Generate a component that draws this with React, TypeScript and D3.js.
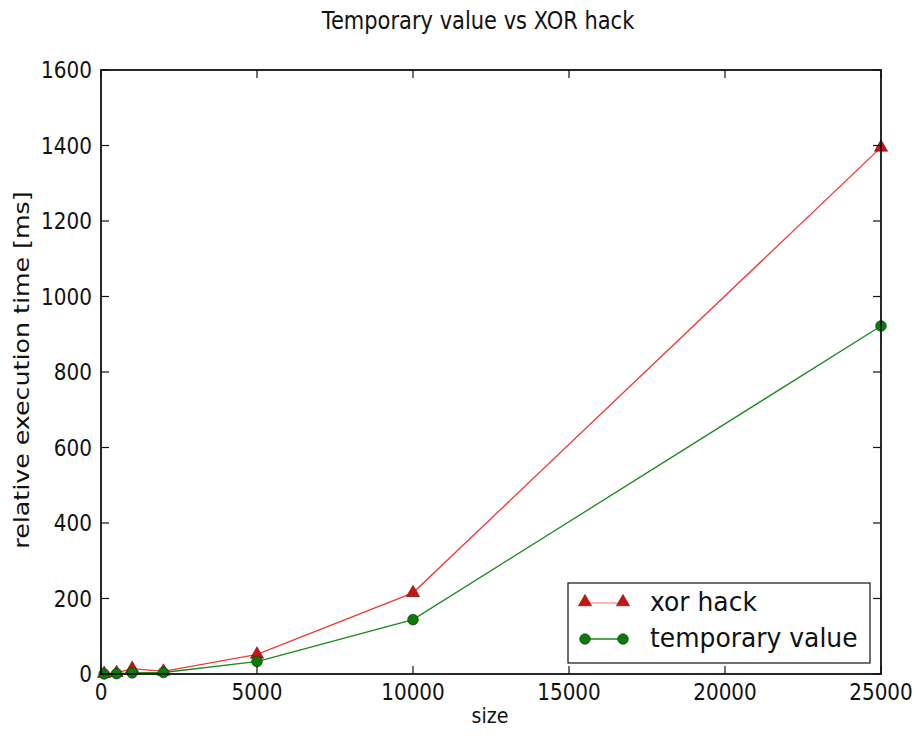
import React from "react";
import * as d3 from "d3";

const sizes = [100, 500, 1000, 2000, 5000, 10000, 25000];
const xorHack = [1, 3, 14, 7, 52, 215, 1395];
const temporaryValue = [0, 1, 3, 4, 33, 144, 922];
const xTicks = [0, 5000, 10000, 15000, 20000, 25000];
const yTicks = [0, 200, 400, 600, 800, 1000, 1200, 1400, 1600];
const seriesNames = ["xor hack", "temporary value"];

const W = 921, H = 740;
const L = 101, R = 881, T = 70, B = 674;
const FONT = "DejaVu Sans, sans-serif";
const SY = 1.15;

function Txt({ x, y, size, anchor = "middle", rotate = 0, sx = 1, sy = SY, children }: any) {
  return (
    <text
      transform={`translate(${x},${y}) rotate(${rotate}) scale(${sx},${sy})`}
      fontSize={size}
      fontFamily={FONT}
      textAnchor={anchor}
      dominantBaseline="central"
      fill="#111"
    >
      {children}
    </text>
  );
}

export default function App() {
  const x = d3.scaleLinear().domain([0, 25000]).range([L, R]);
  const y = d3.scaleLinear().domain([0, 1600]).range([B, T]);
  const line = d3.line<number>().x((_, i) => x(sizes[i])).y((d) => y(d));
  const tri = d3.symbol().type(d3.symbolTriangle).size(75)();
  const circ = d3.symbol().type(d3.symbolCircle).size(90)();
  const redLine = "#ee3a3a";
  const redFill = "#cc1111";
  const greenLine = "#1a8a1a";
  const greenFill = "#0a7a0a";
  const tk = 8;

  return (
    <svg width={W} height={H} style={{ position: "absolute", left: 0, top: 0, background: "#fff" }}>
      <rect width={W} height={H} fill="#fff" />
      <Txt x={478} y={20} size={21}>Temporary value vs XOR hack</Txt>

      {/* series */}
      <path d={line(xorHack) || ""} fill="none" stroke={redLine} strokeWidth={1.3} />
      <path d={line(temporaryValue) || ""} fill="none" stroke={greenLine} strokeWidth={1.3} />
      {xorHack.map((v, i) => (
        <path key={"r" + i} d={tri || ""} transform={`translate(${x(sizes[i])},${y(v)})`} fill={redFill} stroke="#551010" strokeWidth={0.6} />
      ))}
      {temporaryValue.map((v, i) => (
        <path key={"g" + i} d={circ || ""} transform={`translate(${x(sizes[i])},${y(v)})`} fill={greenFill} stroke="#0a3a0a" strokeWidth={0.6} />
      ))}

      {/* frame */}
      <rect x={L} y={T} width={R - L} height={B - T} fill="none" stroke="#111" strokeWidth={1.8} />

      {/* ticks */}
      {xTicks.map((t) => (
        <g key={"x" + t}>
          <line x1={x(t)} x2={x(t)} y1={B} y2={B - tk} stroke="#111" strokeWidth={1.2} />
          <line x1={x(t)} x2={x(t)} y1={T} y2={T + tk} stroke="#111" strokeWidth={1.2} />
          <Txt x={x(t)} y={692} size={20}>{t}</Txt>
        </g>
      ))}
      {yTicks.map((t) => (
        <g key={"y" + t}>
          <line x1={L} x2={L + tk} y1={y(t)} y2={y(t)} stroke="#111" strokeWidth={1.2} />
          <line x1={R} x2={R - tk} y1={y(t)} y2={y(t)} stroke="#111" strokeWidth={1.2} />
          <Txt x={92} y={y(t)} size={20} anchor="end">{t}</Txt>
        </g>
      ))}

      <Txt x={490} y={716} size={19}>size</Txt>
      <Txt x={22} y={370} size={22} rotate={-90} sx={SY} sy={1}>relative execution time [ms]</Txt>

      {/* legend */}
      <rect x={568} y={583} width={302} height={80} fill="#fff" stroke="#111" strokeWidth={1.2} />
      <line x1={585} x2={623} y1={603} y2={603} stroke="#f4a0a0" strokeWidth={1.5} />
      <path d={tri || ""} transform="translate(585,602)" fill={redFill} stroke="#551010" strokeWidth={0.6} />
      <path d={tri || ""} transform="translate(623,602)" fill={redFill} stroke="#551010" strokeWidth={0.6} />
      <Txt x={650} y={602} size={25} anchor="start" sy={1.05}>{seriesNames[0]}</Txt>
      <line x1={585} x2={623} y1={639} y2={639} stroke={greenLine} strokeWidth={1.5} />
      <path d={circ || ""} transform="translate(585,639)" fill={greenFill} stroke="#0a3a0a" strokeWidth={0.6} />
      <path d={circ || ""} transform="translate(623,639)" fill={greenFill} stroke="#0a3a0a" strokeWidth={0.6} />
      <Txt x={650} y={638} size={25} anchor="start" sy={1.05}>{seriesNames[1]}</Txt>
    </svg>
  );
}
